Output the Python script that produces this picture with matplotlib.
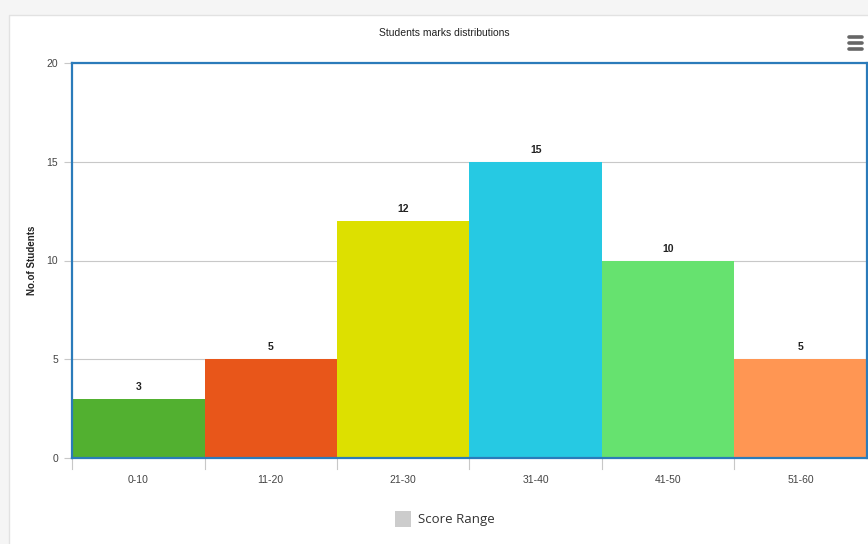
import matplotlib.pyplot as plt
from matplotlib.patches import Rectangle
from matplotlib.lines import Line2D

# ========= data =========
categories = ["0-10", "11-20", "21-30", "31-40", "41-50", "51-60"]
students = [3, 5, 12, 15, 10, 5]
bar_colors = ["#52b030", "#e8561a", "#dde000", "#26c9e3", "#66e26f", "#ff9653"]
y_ticks = [0, 5, 10, 15, 20]

plt.rcParams["font.family"] = ["Liberation Sans", "DejaVu Sans"]

W, H = 868, 544
fig = plt.figure(figsize=(W / 100, H / 100), dpi=100, facecolor="#f5f5f5")

# white card (behind everything)
card = Rectangle((9 / W, -0.01), 1, (H - 15) / H + 0.01, transform=fig.transFigure,
                 facecolor="white", edgecolor="#e2e2e2", linewidth=1, zorder=-5)
fig.add_artist(card)

# hamburger icon
for yy in [37, 43, 49]:
    fig.add_artist(Line2D([849 / W, 862 / W], [1 - yy / H, 1 - yy / H],
                          transform=fig.transFigure, color="#666666",
                          linewidth=2.6, solid_capstyle="round"))

ax = fig.add_axes([72 / W, (H - 458) / H, (867 - 72) / W, (458 - 63) / H])
ax.set_facecolor("white")

x = range(len(categories))
ax.bar(x, students, width=1.0, color=bar_colors, zorder=2)
for i, v in enumerate(students):
    ax.text(i, v + 0.35, str(v), ha="center", va="bottom",
            fontsize=7.5, fontweight="bold", color="#222222")

ax.set_xlim(-0.5, len(categories) - 0.5)
ax.set_ylim(0, 20)
ax.set_yticks(y_ticks)
ax.set_yticklabels([str(t) for t in y_ticks], fontsize=7.5, color="#444444")
ax.set_xticks(list(x))
ax.set_xticklabels(categories, fontsize=7.5, color="#444444")
ax.tick_params(axis="x", length=0, pad=12)
ax.tick_params(axis="y", length=6, color="#c8c8c8", pad=4)

# category boundary ticks below the axis
for b in [i - 0.5 for i in range(len(categories))]:
    ax.plot([b, b], [0, -0.55], color="#c8c8c8", linewidth=0.8,
            clip_on=False, zorder=1)

ax.grid(axis="y", color="#c8c8c8", linewidth=0.8, zorder=0)
ax.set_axisbelow(True)

for s in ax.spines.values():
    s.set_color("#2b7bba")
    s.set_linewidth(1.6)
    s.set_zorder(3)

ax.set_ylabel("No.of Students", fontsize=7, fontweight="bold",
              color="#222222", labelpad=7)
fig.text(444 / W, 1 - 33 / H, "Students marks distributions",
         ha="center", va="center", fontsize=7.5, color="#222222")

# legend
fig.add_artist(Rectangle((395 / W, 1 - 527 / H), 16 / W, 16 / H,
                         transform=fig.transFigure, facecolor="#cccccc",
                         edgecolor="none"))
fig.text(418 / W, 1 - 519 / H, "Score Range", ha="left", va="center",
         fontsize=9.5, color="#333333", family="Open Sans")

fig.savefig("out.png", dpi=100, facecolor=fig.get_facecolor())
